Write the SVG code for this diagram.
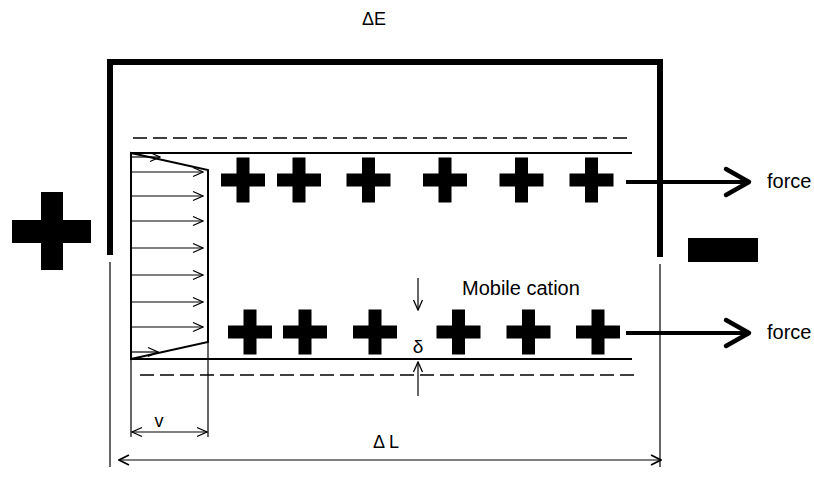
<svg xmlns="http://www.w3.org/2000/svg" width="814" height="490" viewBox="0 0 814 490">
<defs>
<style>
.t{font-family:"Liberation Sans",Arial,sans-serif;fill:#000}
.thin{stroke:#000;stroke-width:1.2;fill:none}
.chan{stroke:#000;stroke-width:2;fill:none}
.dash{stroke:#000;stroke-width:1.6;stroke-dasharray:14 6;fill:none}
.elec{stroke:#000;stroke-width:6;fill:none;stroke-linejoin:miter}
.force{stroke:#000;stroke-width:4;fill:none}
.head{stroke:#000;stroke-width:4.5;fill:none;stroke-linecap:round;stroke-linejoin:round}
.ion{fill:#000}
</style>
<marker id="oa" viewBox="0 0 12 12" refX="11" refY="6" markerWidth="12" markerHeight="12" markerUnits="userSpaceOnUse" orient="auto-start-reverse">
<path d="M1,1.5 L11,6 L1,10.5" fill="none" stroke="#000" stroke-width="1.3"/>
</marker>
<marker id="oa2" viewBox="0 0 12 12" refX="11" refY="6" markerWidth="12" markerHeight="12" markerUnits="userSpaceOnUse" orient="auto-start-reverse">
<path d="M1,1 L11,6 L1,11" fill="none" stroke="#000" stroke-width="1.8"/>
</marker>
<path id="plus" d="M-22,-6.5 H-6.5 V-22.5 H6.5 V-6.5 H22 V6.5 H6.5 V22.5 H-6.5 V6.5 H-22 Z"/>
</defs>
<rect width="814" height="490" fill="#fff"/>

<g id="electrode">
<path class="elec" d="M110,255 V62 H660 V257"/>
</g>
<g id="anode">
<path class="ion" d="M12,220 H41 V192 H63 V220 H91 V243 H63 V270 H41 V243 H12 Z"/>
</g>
<g id="cathode">
<rect class="ion" x="688" y="238" width="70" height="24"/>
</g>
<text id="deltaE" class="t" x="374" y="25" font-size="18" text-anchor="middle">ΔE</text>

<g id="channel">
<line class="dash" x1="133" y1="138" x2="632" y2="138"/>
<line class="chan" x1="131" y1="153" x2="632" y2="153"/>
<line class="chan" x1="131" y1="359" x2="632" y2="359"/>
<line class="dash" x1="140" y1="375" x2="640" y2="375"/>
</g>

<g id="profile">
<path class="chan" d="M131,153 L208,170 V342 L131,359 Z"/>
<g class="thin" marker-end="url(#oa)">
<line x1="131" y1="157" x2="160" y2="157"/>
<line x1="131" y1="172" x2="203" y2="172"/>
<line x1="131" y1="196" x2="203" y2="196"/>
<line x1="131" y1="221" x2="203" y2="221"/>
<line x1="131" y1="248" x2="203" y2="248"/>
<line x1="131" y1="275" x2="203" y2="275"/>
<line x1="131" y1="302" x2="203" y2="302"/>
<line x1="131" y1="327" x2="203" y2="327"/>
<line x1="131" y1="352" x2="158" y2="352"/>
</g>
</g>

<g id="cations-top">
<use href="#plus" x="243" y="180"/>
<use href="#plus" x="299" y="180"/>
<use href="#plus" x="368.5" y="180"/>
<use href="#plus" x="445" y="180"/>
<use href="#plus" x="521.5" y="180"/>
<use href="#plus" x="591.5" y="180"/>
</g>
<g id="cations-bottom">
<use href="#plus" x="250" y="332"/>
<use href="#plus" x="305" y="332"/>
<use href="#plus" x="375" y="332"/>
<use href="#plus" x="458.5" y="332"/>
<use href="#plus" x="528.5" y="332"/>
<use href="#plus" x="598" y="332"/>
</g>
<text id="mobile" class="t" x="462" y="295" font-size="20">Mobile cation</text>
<text id="delta" class="t" x="418" y="353" font-size="19" text-anchor="middle">δ</text>

<g id="connectors">
<line class="force" x1="626" y1="182" x2="747" y2="182"/>
<path class="head" d="M726,169 L749,182 L726,195"/>
<line class="force" x1="626" y1="333" x2="747" y2="333"/>
<path class="head" d="M726,320 L749,333 L726,346"/>
<line class="thin" x1="418" y1="278" x2="418" y2="310" marker-end="url(#oa)"/>
<line class="thin" x1="418" y1="396" x2="418" y2="362" marker-end="url(#oa)"/>
<line class="thin" x1="110" y1="262" x2="110" y2="467"/>
<line class="thin" x1="660" y1="264" x2="660" y2="467"/>
<line class="thin" x1="131" y1="359" x2="131" y2="437"/>
<line class="thin" x1="208" y1="342" x2="208" y2="437"/>
<line class="thin" x1="132" y1="432" x2="207" y2="432" stroke-width="1.6" marker-start="url(#oa)" marker-end="url(#oa)"/>
<line class="thin" x1="119" y1="460" x2="661" y2="460" stroke-width="1.6" marker-start="url(#oa2)" marker-end="url(#oa2)"/>
</g>
<text id="force1" class="t" x="767" y="188" font-size="20">force</text>
<text id="force2" class="t" x="767" y="339" font-size="20">force</text>
<text id="v" class="t" x="159" y="427" font-size="18" text-anchor="middle">v</text>
<text id="deltaL" class="t" x="386" y="448" font-size="18" text-anchor="middle">Δ L</text>
</svg>
